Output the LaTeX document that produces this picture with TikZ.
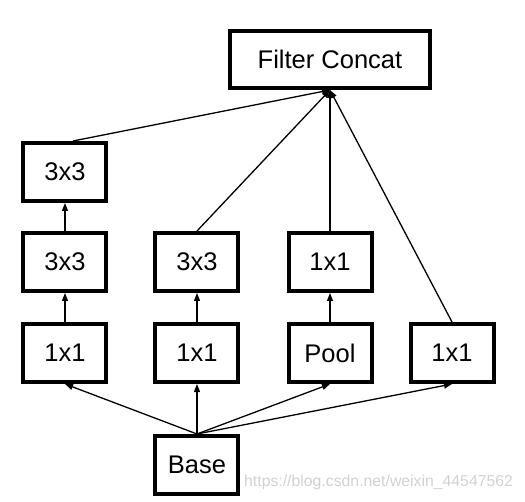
\documentclass[tikz,border=0pt]{standalone}
\usepackage{fontspec}
\setmainfont{Liberation Sans}
\usetikzlibrary{
    arrows.meta,
    positioning
}
\tikzset{
    every picture/.style = {
        > = {Triangle[length = 8pt, width = 6pt]}
    },
    layer/.style = {
        draw,
        line width = 4pt,
        minimum width = 83pt,
        minimum height = 58pt,
        inner sep = 0pt,
        font = \fontsize{25.5}{30}\selectfont
    },
    flow/.style = {
        ->,
        line width = 1.3pt
    }
}

\begin{document}
\begin{tikzpicture}[node distance = 29pt]
    \useasboundingbox (-197pt, -36pt) rectangle (328pt, 465pt);

    \node[layer] (base) at (0, 0) {Base};
    \node[layer] [above = 50pt of base] (b2a) {1x1};
    \node[layer] [left = 45pt of b2a] (b1a) {1x1};
    \node[layer] [right = 46pt of b2a] (b3a) {Pool};
    \node[layer] [right = 35pt of b3a] (b4a) {1x1};
    \node[layer] [above = of b1a] (b1b) {3x3};
    \node[layer] [above = of b2a] (b2b) {3x3};
    \node[layer] [above = of b3a] (b3b) {1x1};
    \node[layer] [above = 28pt of b1b] (b1c) {3x3};
    \node[layer, minimum width = 199pt, minimum height = 57pt] [above = 141pt of b3b] (concat) {Filter Concat};

    \coordinate (fan) at (base.north);
    \coordinate (sink) at (concat.south);

    \draw[flow] (fan) -- (b1a.south);
    \draw[flow] (fan) -- (b2a.south);
    \draw[flow] (fan) -- (b3a.south);
    \draw[flow] (fan) -- (b4a.south);
    \draw[flow] (b1a) -- (b1b);
    \draw[flow] (b1b) -- (b1c);
    \draw[flow] (b2a) -- (b2b);
    \draw[flow] (b3a) -- (b3b);
    \draw[flow] ([xshift = 8pt]b1c.north) -- (sink);
    \draw[flow] (b2b.north) -- (sink);
    \draw[flow] (b3b.north) -- (sink);
    \draw[flow] (b4a.north) -- (sink);

    \node[text = black!18, font = \fontsize{15.8}{18}\selectfont, anchor = west, inner sep = 0pt] (mark) at (47pt, -17pt) {https://blog.csdn.net/weixin\_44547562};
\end{tikzpicture}
\end{document}
